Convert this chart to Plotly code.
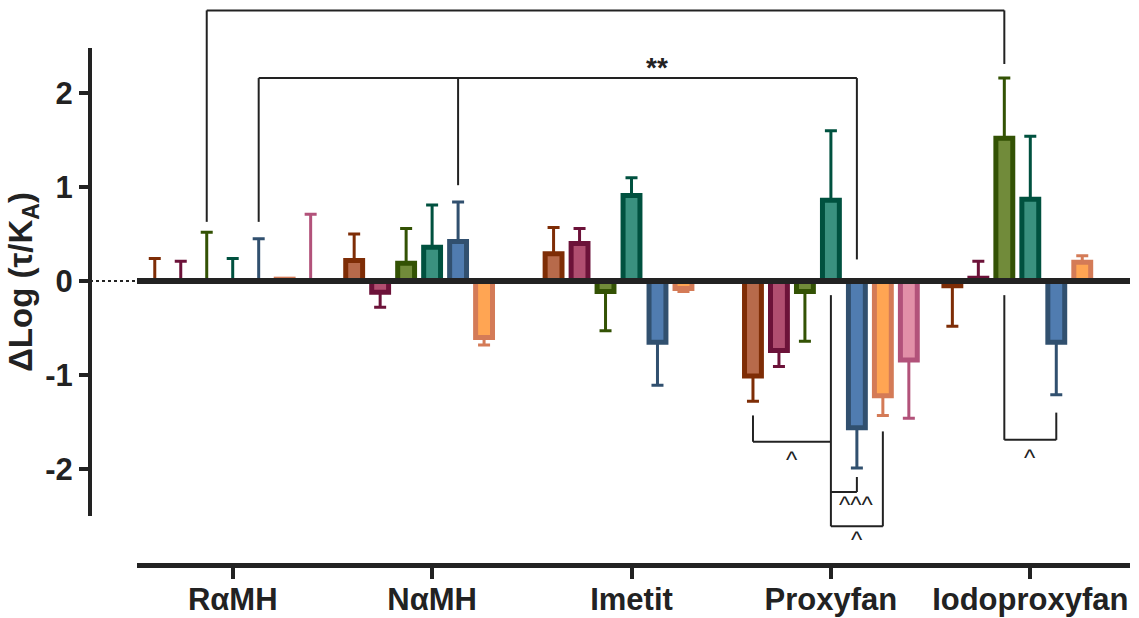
import plotly.graph_objects as go

# ---------------- data ----------------
groups = ["RαMH", "NαMH", "Imetit", "Proxyfan", "Iodoproxyfan"]
series_names = ["S1", "S2", "S3", "S4", "S5", "S6", "S7"]

# values per series (one value per group)
s1_vals = [0.0, 0.22, 0.29, -1.01, -0.05]
s2_vals = [0.0, -0.12, 0.40, -0.74, 0.03]
s3_vals = [0.0, 0.19, -0.11, -0.11, 1.52]
s4_vals = [0.0, 0.36, 0.91, 0.86, 0.87]
s5_vals = [0.0, 0.42, -0.65, -1.56, -0.65]
s6_vals = [0.02, -0.60, -0.08, -1.22, 0.20]
s7_vals = [0.0, 0.0, 0.0, -0.84, 0.0]

# one-sided error (SEM) magnitudes
s1_err = [0.24, 0.28, 0.28, 0.27, 0.43]
s2_err = [0.21, 0.16, 0.16, 0.17, 0.18]
s3_err = [0.52, 0.37, 0.42, 0.53, 0.64]
s4_err = [0.24, 0.45, 0.19, 0.74, 0.67]
s5_err = [0.45, 0.42, 0.46, 0.43, 0.56]
s6_err = [0.0, 0.08, 0.03, 0.21, 0.07]
s7_err = [0.71, 0.0, 0.0, 0.62, 0.0]

fill_colors = ["#B76A4B", "#B04E70", "#718B3A", "#3A917F", "#507CB0", "#FFA553", "#E290A8"]
line_colors = ["#7E2D06", "#6C1239", "#335204", "#00513F", "#31506F", "#D47B57", "#B2527A"]

all_vals = [s1_vals, s2_vals, s3_vals, s4_vals, s5_vals, s6_vals, s7_vals]
all_errs = [s1_err, s2_err, s3_err, s4_err, s5_err, s6_err, s7_err]

y_ticks = [-2, -1, 0, 1, 2]

# ---------------- layout geometry ----------------
W, H = 1139, 618
YMIN, YMAX = -2.5, 2.48
XMIN, XMAX = -0.48, 4.5
BARGAP = 0.088
NSER = 7
PITCH = (1 - BARGAP) / NSER
Y_DOM0 = 0.0948
INK = "#222222"
FONT = "Liberation Sans"

fig = go.Figure()
xs = list(range(len(groups)))
for k in range(NSER):
    vals = all_vals[k]
    errs = all_errs[k]
    up = [e if v >= 0 else 0 for v, e in zip(vals, errs)]
    dn = [e if v < 0 else 0 for v, e in zip(vals, errs)]
    fig.add_trace(go.Bar(
        x=xs, y=vals, name=series_names[k],
        marker=dict(color=fill_colors[k], line=dict(color=line_colors[k], width=5)),
        error_y=dict(type="data", symmetric=False, array=up, arrayminus=dn,
                     color=line_colors[k], thickness=3, width=6),
        showlegend=False,
    ))


def bx(g, i):
    return g + (i - 3) * PITCH


def py(v):
    return Y_DOM0 + (v - YMIN) / (YMAX - YMIN) * (1 - Y_DOM0)


shapes = []


def seg(x0, y0, x1, y1, w=2):
    shapes.append(dict(type="line", xref="x", yref="paper", x0=x0, x1=x1,
                       y0=py(y0), y1=py(y1), line=dict(color=INK, width=w)))


# top bracket: RaMH olive vs Iodoproxyfan olive
seg(bx(0, 2), 0.63, bx(0, 2), 2.88)
seg(bx(0, 2), 2.88, bx(4, 2), 2.88)
seg(bx(4, 2), 2.88, bx(4, 2), 2.31)
# ** bracket: blue bars
seg(bx(0, 4), 0.63, bx(0, 4), 2.16)
seg(bx(0, 4), 2.16, bx(3, 4), 2.16)
seg(bx(1, 4), 2.16, bx(1, 4), 1.02)
seg(bx(3, 4), 2.16, bx(3, 4), 0.23)
# Proxyfan lower brackets
seg(bx(3, 0), -1.43, bx(3, 0), -1.71)
seg(bx(3, 0), -1.71, bx(3, 3), -1.71)
seg(bx(3, 3), -0.15, bx(3, 3), -2.61)
seg(bx(3, 3), -2.245, bx(3, 4), -2.245)
seg(bx(3, 4), -2.245, bx(3, 4), -2.085)
seg(bx(3, 3), -2.61, bx(3, 5), -2.61)
seg(bx(3, 5), -2.61, bx(3, 5), -1.60)
# Iodoproxyfan bracket
seg(bx(4, 2), -0.15, bx(4, 2), -1.69)
seg(bx(4, 2), -1.69, bx(4, 4), -1.69)
seg(bx(4, 4), -1.69, bx(4, 4), -1.40)

# zero line (thick) and dotted lead-in from the y axis
x_dom0 = (137 - 90) / (1130 - 90)
shapes.append(dict(type="line", xref="x", yref="y", x0=XMIN, x1=XMAX, y0=0, y1=0,
                   line=dict(color=INK, width=6), layer="above"))
shapes.append(dict(type="line", xref="paper", yref="y", x0=0, x1=x_dom0, y0=0, y1=0,
                   line=dict(color=INK, width=2, dash="dot")))

annotations = []


def txt(x, yv, s, size=22):
    annotations.append(dict(x=x, y=py(yv), xref="x", yref="paper", text=s, showarrow=False,
                            font=dict(family=FONT, size=size, color=INK),
                            xanchor="center", yanchor="middle"))


txt((bx(1, 4) + bx(3, 4)) / 2, 2.27, "<b>**</b>", 28)
txt((bx(3, 0) + bx(3, 3)) / 2, -1.90, "^", 24)
txt(bx(3, 4), -2.38, "^^^", 24)
txt(bx(3, 4), -2.75, "^", 24)
txt(bx(4, 3), -1.88, "^", 24)

fig.update_layout(
    width=W, height=H,
    margin=dict(l=90, r=W - 1130, t=48, b=H - 565),
    paper_bgcolor="white", plot_bgcolor="white",
    barmode="group", bargap=BARGAP, bargroupgap=0.35,
    shapes=shapes, annotations=annotations,
    font=dict(family=FONT, color=INK),
    xaxis=dict(domain=[x_dom0, 1], range=[XMIN, XMAX], anchor="free", position=0,
               automargin=False,
               showline=True, linecolor=INK, linewidth=5, showgrid=False, zeroline=False,
               ticks="outside", ticklen=11, tickwidth=4, tickcolor=INK,
               ticklabelstandoff=-6,
               tickvals=xs, ticktext=groups,
               tickfont=dict(family=FONT, size=31, color=INK, weight="bold")),
    yaxis=dict(domain=[Y_DOM0, 1], range=[YMIN, YMAX], anchor="free", position=0,
               automargin=False,
               showline=True, linecolor=INK, linewidth=4, showgrid=False, zeroline=False,
               ticks="outside", ticklen=9, tickwidth=4, tickcolor=INK,
               tickvals=y_ticks, ticktext=[str(v) for v in y_ticks],
               tickfont=dict(family=FONT, size=31, color=INK, weight="bold"),
               title=dict(text="ΔLog (τ/K<sub>A</sub>)", standoff=2,
                          font=dict(family=FONT, size=33, color=INK, weight="bold"))),
)

fig.write_html("out.html")
